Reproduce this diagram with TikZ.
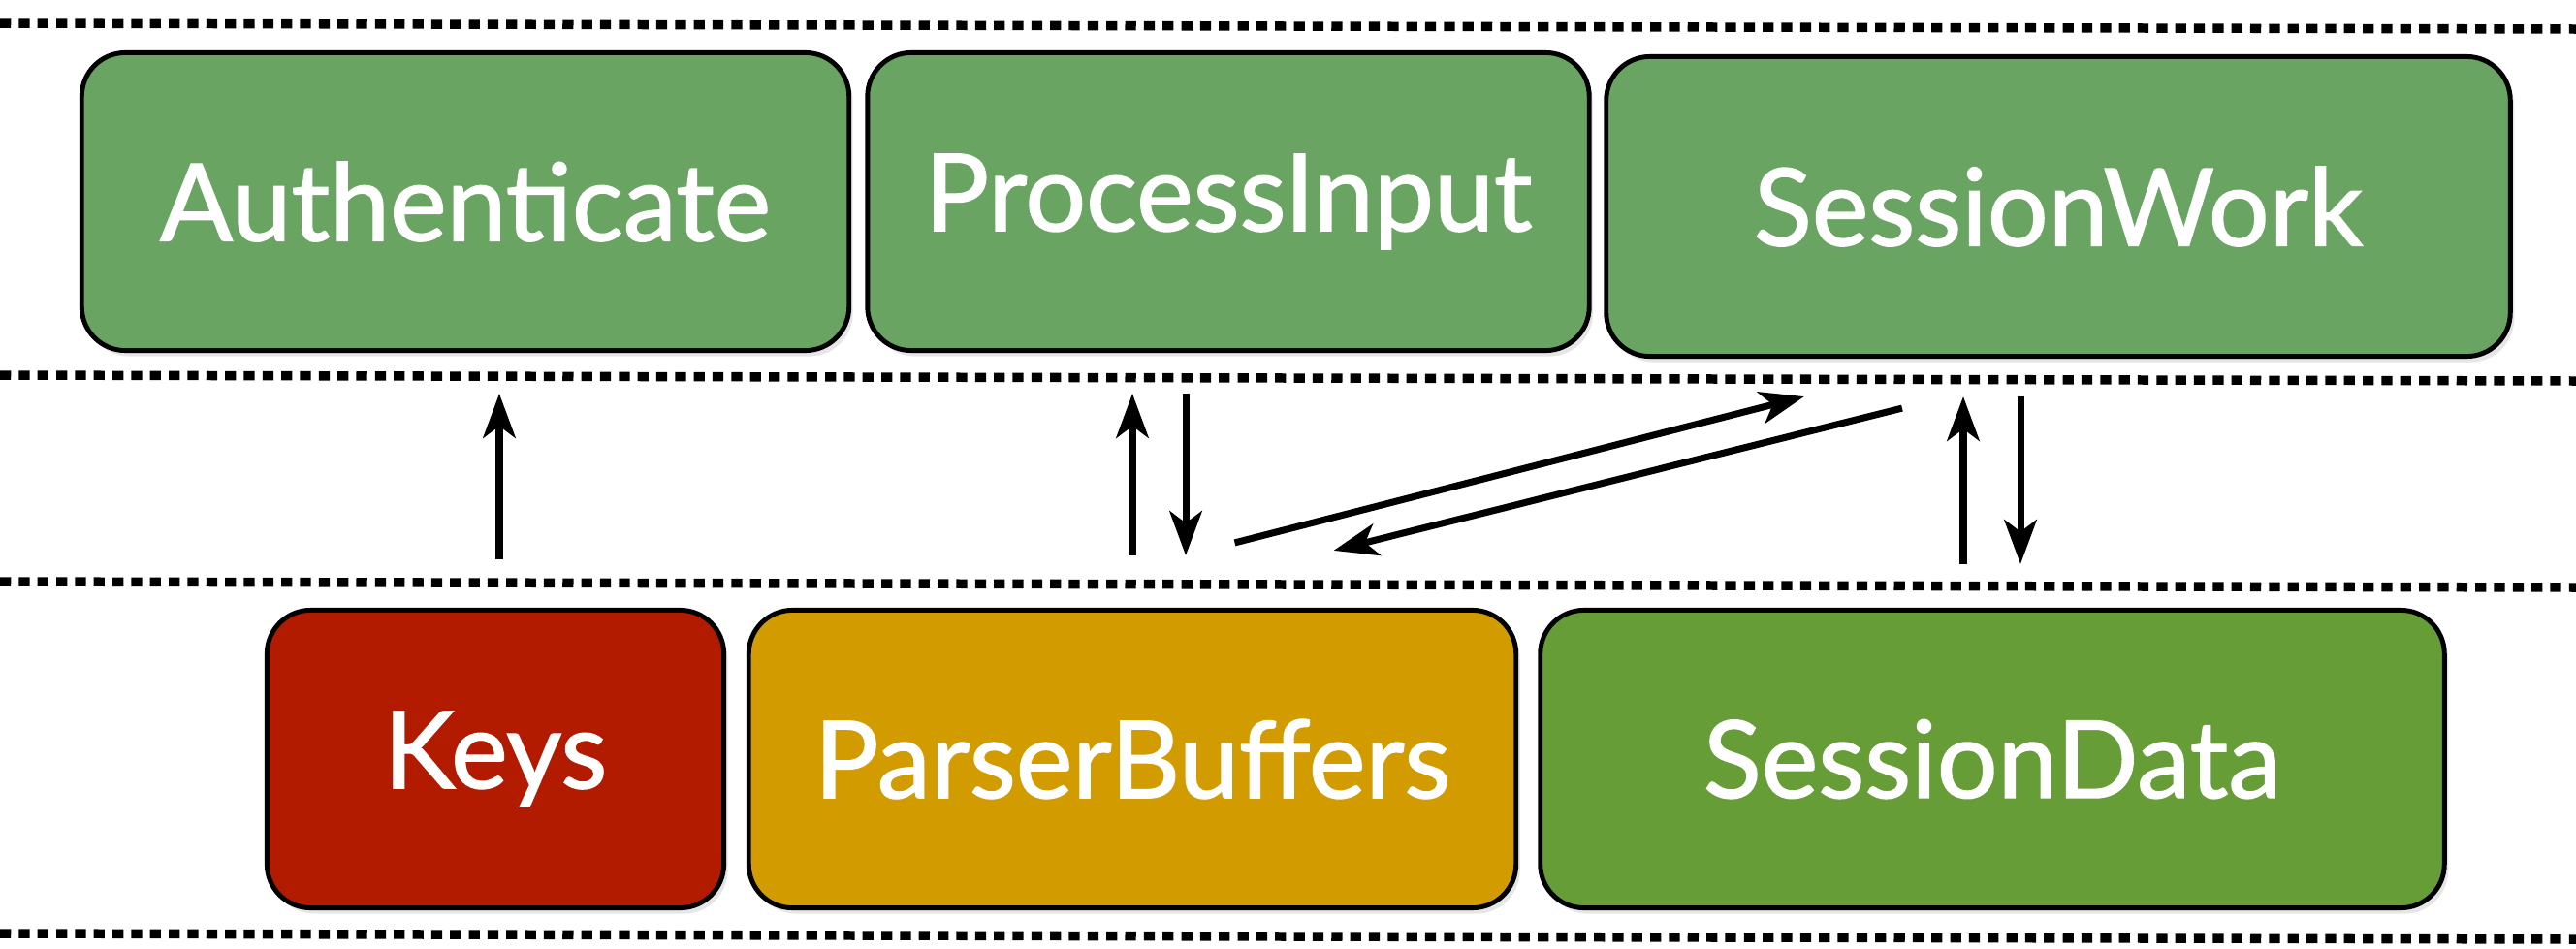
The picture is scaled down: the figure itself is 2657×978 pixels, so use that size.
\documentclass[tikz,border=0pt]{standalone}
\usepackage{fontspec}
\setmainfont{Lato}[FakeBold=1.3]
\usetikzlibrary{arrows.meta,shadows}

\definecolor{taskgreen}{HTML}{6AA463}
\definecolor{keysred}{HTML}{B31B00}
\definecolor{buffergold}{HTML}{D29C00}
\definecolor{datagreen}{HTML}{669D36}

\tikzset{
  box/.style={draw=black, line width=1.4pt, rounded corners=0.45cm,
    text=white, font=\fontsize{31.5}{36}\selectfont,
    drop shadow={shadow xshift=0.4mm, shadow yshift=-0.6mm, opacity=0.2}},
  layer/.style={line width=2.7pt, dash pattern=on 3.2pt off 2.3pt},
  flow/.style={-{Stealth[length=13pt,width=9.5pt,inset=3.5pt]}, line width=2pt}
}

\begin{document}
\begin{tikzpicture}[x=0.01cm, y=-0.01cm]
  \useasboundingbox (0,0) rectangle (2657,978);
  % layer separators
  \foreach \y in {24,387,600,963}
    \draw[layer] (0,\y) -- (2657,\y+6);
  \draw
    (480,208) node[box, fill=taskgreen, minimum width=7.91cm, minimum height=3.07cm] (auth){Authenticate}
    (1267,208) node[box, fill=taskgreen, minimum width=7.44cm, minimum height=3.07cm] (input){ProcessInput}
    (2123,213) node[box, fill=taskgreen, minimum width=9.32cm, minimum height=3.09cm] (work){SessionWork}
    (511,783) node[box, fill=keysred, minimum width=4.71cm, minimum height=3.07cm] (keys){Keys}
    (1168,783) node[box, fill=buffergold, minimum width=7.91cm, minimum height=3.07cm] (buffers){ParserBuffers}
    (2055,783) node[box, fill=datagreen, minimum width=9.32cm, minimum height=3.07cm] (data){SessionData};
  \begin{scope}[flow]
    \draw[shorten <=0.5cm, shorten >=0.42cm] ([xshift=0.04cm]keys.north) to ([xshift=0.04cm]keys.north |- auth.south);
    \draw[shorten <=0.54cm, shorten >=0.42cm] (buffers.north) to (buffers.north |- input.south);
    \draw[shorten <=0.42cm, shorten >=0.54cm] ([xshift=0.55cm]buffers.north |- input.south) to ([xshift=0.55cm]buffers.north);
    \draw ([shift={(1.055cm,0.67cm)}]buffers.north) to ([shift={(-2.62cm,-0.39cm)}]work.south);
    \draw ([shift={(-1.61cm,-0.51cm)}]work.south) to ([shift={(2.075cm,0.59cm)}]buffers.north);
    \draw[shorten <=0.45cm, shorten >=0.39cm] ([xshift=-0.3cm]data.north) to ([xshift=-0.3cm]data.north |- work.south);
    \draw[shorten <=0.39cm, shorten >=0.45cm] ([xshift=0.29cm]data.north |- work.south) to ([xshift=0.29cm]data.north);
  \end{scope}
\end{tikzpicture}
\end{document}
